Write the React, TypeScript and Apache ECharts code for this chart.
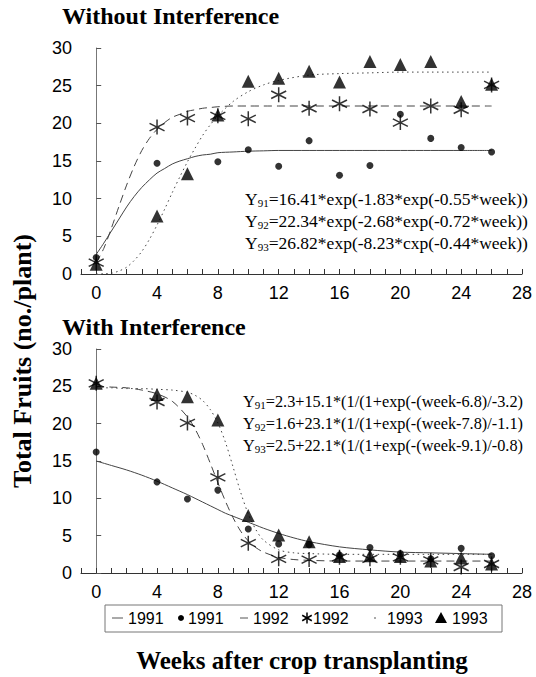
import React, { useEffect, useRef } from "react";
import * as echarts from "echarts";

// ---- observed data (weeks after transplanting) ----
const obsWeeks = [0, 4, 6, 8, 10, 12, 14, 16, 18, 20, 22, 24, 26];

// Without interference
const topObs1991 = [2.2, 14.7, null, 14.9, 16.5, 14.3, 17.7, 13.1, 14.4, 21.2, 18.0, 16.8, 16.2];
const topObs1992 = [1.5, 19.5, 20.7, 21.0, 20.6, 23.8, 22.0, 22.6, 21.9, 20.1, 22.3, 21.8, 25.1];
const topObs1993 = [1.3, 7.7, 13.3, 21.1, 25.6, 26.0, 26.9, 25.5, 28.2, 27.8, 28.2, 22.9, 25.2];

// With interference
const botObs1991 = [16.2, 12.2, 9.9, 11.1, 5.9, 3.9, 3.8, 2.4, 3.4, 2.6, 1.9, 3.3, 2.3];
const botObs1992 = [25.4, 22.9, 20.1, 12.8, 4.0, 1.9, 1.8, 2.1, 1.9, 2.1, 1.7, 0.8, 1.2];
const botObs1993 = [25.4, 23.9, 23.6, 20.5, 7.7, 5.1, 4.2, 2.2, 2.3, 2.2, 1.6, 2.0, 1.2];

// ---- fitted curves ----
const topCurveWeeks = [0, 0.5, 1, 1.5, 2, 2.5, 3, 3.5, 4, 4.5, 5, 5.5, 6, 6.5, 7, 7.5, 8, 9, 10, 11, 12, 14, 16, 18, 20, 22, 24, 26];
const topFit1991 = [2.6, 4.1, 5.7, 7.3, 8.9, 10.3, 11.5, 12.5, 13.4, 14.0, 14.6, 15.0, 15.3, 15.6, 15.8, 15.9, 16.1, 16.2, 16.3, 16.35, 16.4, 16.4, 16.4, 16.4, 16.4, 16.4, 16.4, 16.4];
const topFit1992 = [1.5, 3.4, 6.1, 9.0, 11.8, 14.3, 16.4, 18.0, 19.2, 20.1, 20.8, 21.2, 21.6, 21.8, 22.0, 22.1, 22.2, 22.3, 22.3, 22.3, 22.3, 22.3, 22.3, 22.3, 22.3, 22.3, 22.3, 22.3];
const topFit1993 = [0.0, 0.03, 0.1, 0.4, 0.9, 1.8, 3.0, 4.6, 6.5, 8.6, 10.8, 12.9, 14.9, 16.7, 18.4, 19.8, 21.0, 22.9, 24.2, 25.1, 25.7, 26.4, 26.6, 26.7, 26.8, 26.8, 26.8, 26.8];

const botCurveWeeks = [0, 1, 2, 3, 4, 5, 6, 6.5, 7, 7.5, 8, 8.5, 9, 9.5, 10, 10.5, 11, 12, 13, 14, 16, 18, 20, 22, 24, 26];
const botFit1991 = [15.0, 14.4, 13.8, 13.1, 12.3, 11.4, 10.5, 10.0, 9.5, 9.0, 8.5, 8.0, 7.6, 7.2, 6.8, 6.4, 6.0, 5.3, 4.7, 4.2, 3.5, 3.1, 2.8, 2.7, 2.6, 2.5];
const botFit1992 = [25.0, 24.9, 24.8, 24.5, 24.0, 23.0, 20.9, 19.3, 17.2, 14.7, 12.1, 9.6, 7.4, 5.6, 4.3, 3.4, 2.8, 2.1, 1.8, 1.7, 1.6, 1.6, 1.6, 1.6, 1.6, 1.6];
const botFit1993 = [24.8, 24.8, 24.7, 24.7, 24.6, 24.5, 24.2, 23.8, 23.1, 21.9, 20.1, 17.5, 14.2, 10.8, 7.9, 5.8, 4.4, 3.1, 2.7, 2.6, 2.5, 2.5, 2.5, 2.5, 2.5, 2.5];

// ---- texts ----
const titleTop = "Without Interference";
const titleBottom = "With Interference";
const yTitle = "Total Fruits (no./plant)";
const xTitle = "Weeks after crop transplanting";
const legendLabels = ["1991", "1991", "1992", "1992", "1993", "1993"];
const topEquations = [
  ["91", "=16.41*exp(-1.83*exp(-0.55*week))"],
  ["92", "=22.34*exp(-2.68*exp(-0.72*week))"],
  ["93", "=26.82*exp(-8.23*cxp(-0.44*week))"],
];
const bottomEquations = [
  ["91", "=2.3+15.1*(1/(1+exp(-(week-6.8)/-3.2)"],
  ["92", "=1.6+23.1*(1/(1+exp(-(week-7.8)/-1.1)"],
  ["93", "=2.5+22.1*(1/(1+exp(-(week-9.1)/-0.8)"],
];

const SERIF = "'Liberation Serif', 'Times New Roman', serif";
const SANS = "'Liberation Sans', Arial, sans-serif";
const LINE_COLOR = "#444";
const STAR = "path://M0,-10L0,10M-8.66,-5L8.66,5M-8.66,5L8.66,-5";

function pts(xs: number[], ys: (number | null)[]) {
  const out: number[][] = [];
  xs.forEach((x, i) => {
    const y = ys[i];
    if (y !== null && y !== undefined) out.push([x, y]);
  });
  return out;
}

function curve(name: string, idx: number, xs: number[], ys: number[], type: any) {
  return {
    name,
    type: "line",
    xAxisIndex: idx,
    yAxisIndex: idx,
    data: pts(xs, ys),
    smooth: 0.3,
    showSymbol: false,
    symbol: "none",
    silent: true,
    lineStyle: { color: LINE_COLOR, width: 1, type },
    z: 2,
  };
}

function scatter(name: string, idx: number, ys: (number | null)[], kind: string) {
  const base: any = {
    name,
    type: "scatter",
    xAxisIndex: idx,
    yAxisIndex: idx,
    data: pts(obsWeeks, ys),
    silent: true,
    z: 3,
  };
  if (kind === "circle") {
    base.symbol = "circle";
    base.symbolSize = 7;
    base.itemStyle = { color: "#000" };
  } else if (kind === "triangle") {
    base.symbol = "triangle";
    base.symbolSize = 13;
    base.itemStyle = { color: "#000" };
  } else {
    base.symbol = STAR;
    base.symbolSize = 15;
    base.itemStyle = { color: "rgba(0,0,0,0)", borderColor: "#000", borderWidth: 1.5 };
  }
  return base;
}

function eqText(eqs: string[][], x: number, y0: number, gap: number, size: number) {
  return eqs.map((e, i) => ({
    type: "text",
    x,
    y: y0 + i * gap,
    silent: true,
    style: {
      text: `{a|Y}{s|${e[0]}}{a|${e[1]}}`,
      verticalAlign: "middle",
      align: "left",
      rich: {
        a: { fontSize: size, fontFamily: SERIF, fill: "#000", lineHeight: 18 },
        s: { fontSize: 11, fontFamily: SERIF, fill: "#000", lineHeight: 18, verticalAlign: "bottom" },
      },
    },
  }));
}

function legendGraphics() {
  const cy = 618;
  const t = (x: number, s: string) => ({
    type: "text",
    x,
    y: cy,
    silent: true,
    style: { text: s, fontSize: 16, fontFamily: SANS, fill: "#000", verticalAlign: "middle", align: "left" },
  });
  const ln = (x1: number, x2: number, dash?: number[]) => ({
    type: "line",
    silent: true,
    shape: { x1, y1: cy, x2, y2: cy },
    style: { stroke: "#555", lineWidth: 1, lineDash: dash },
  });
  const sx = 307;
  const r = 5.5;
  return [
    {
      type: "rect",
      silent: true,
      shape: { x: 105, y: 605, width: 397, height: 27 },
      style: { fill: "none", stroke: "#777", lineWidth: 1 },
    },
    ln(112, 123),
    t(128, legendLabels[0]),
    { type: "circle", silent: true, shape: { cx: 181, cy, r: 3 }, style: { fill: "#000" } },
    t(188, legendLabels[1]),
    ln(240, 248),
    t(253, legendLabels[2]),
    { type: "line", silent: true, shape: { x1: sx, y1: cy - r, x2: sx, y2: cy + r }, style: { stroke: "#000", lineWidth: 1.5 } },
    { type: "line", silent: true, shape: { x1: sx - r * 0.87, y1: cy - r * 0.5, x2: sx + r * 0.87, y2: cy + r * 0.5 }, style: { stroke: "#000", lineWidth: 1.5 } },
    { type: "line", silent: true, shape: { x1: sx - r * 0.87, y1: cy + r * 0.5, x2: sx + r * 0.87, y2: cy - r * 0.5 }, style: { stroke: "#000", lineWidth: 1.5 } },
    t(313, legendLabels[3]),
    ln(374, 376),
    t(387, legendLabels[4]),
    { type: "polygon", silent: true, shape: { points: [[441, cy - 6], [435, cy + 5], [447, cy + 5]] }, style: { fill: "#000" } },
    t(452, legendLabels[5]),
  ];
}

function axisX(idx: number) {
  return {
    gridIndex: idx,
    type: "value",
    min: -1,
    max: 28,
    interval: 1,
    axisLine: { show: true, onZero: false, lineStyle: { color: "#333", width: 1 } },
    axisTick: { show: true, inside: true, length: 5, lineStyle: { color: "#333" } },
    axisLabel: {
      formatter: (v: number) => (v >= 0 && v % 4 === 0 ? String(v) : ""),
      fontSize: 18,
      fontFamily: SANS,
      color: "#000",
      margin: 10,
    },
    splitLine: { show: false },
  };
}

function axisY(idx: number) {
  return {
    gridIndex: idx,
    type: "value",
    min: 0,
    max: 30,
    interval: 5,
    axisLine: { show: true, lineStyle: { color: "#777", width: 1 } },
    axisTick: { show: true, inside: true, length: 5, lineStyle: { color: "#555" } },
    axisLabel: { fontSize: 18, fontFamily: SANS, color: "#000", margin: 9 },
    splitLine: { show: false },
  };
}

export default function App() {
  const ref = useRef<HTMLDivElement>(null);
  useEffect(() => {
    if (!ref.current) return;
    const chart = echarts.init(ref.current, null, { renderer: "svg" });
    const option: any = {
      animation: false,
      backgroundColor: "#fff",
      grid: [
        { left: 81, top: 48, width: 441, height: 226 },
        { left: 81, top: 349, width: 441, height: 224 },
      ],
      xAxis: [axisX(0), axisX(1)],
      yAxis: [axisY(0), axisY(1)],
      series: [
        curve("fit1991", 0, topCurveWeeks, topFit1991, "solid"),
        curve("fit1992", 0, topCurveWeeks, topFit1992, [8, 5]),
        curve("fit1993", 0, topCurveWeeks, topFit1993, [1.5, 3.5]),
        scatter("1991", 0, topObs1991, "circle"),
        scatter("1992", 0, topObs1992, "star"),
        scatter("1993", 0, topObs1993, "triangle"),
        curve("fit1991b", 1, botCurveWeeks, botFit1991, "solid"),
        curve("fit1992b", 1, botCurveWeeks, botFit1992, [8, 5]),
        curve("fit1993b", 1, botCurveWeeks, botFit1993, [1.5, 3.5]),
        scatter("1991b", 1, botObs1991, "circle"),
        scatter("1992b", 1, botObs1992, "star"),
        scatter("1993b", 1, botObs1993, "triangle"),
      ],
      graphic: [
        {
          type: "text",
          x: 62,
          y: 28,
          silent: true,
          style: { text: titleTop, fontSize: 24, fontWeight: "bold", fontFamily: SERIF, fill: "#000", verticalAlign: "bottom" },
        },
        {
          type: "text",
          x: 62,
          y: 339,
          silent: true,
          style: { text: titleBottom, fontSize: 24, fontWeight: "bold", fontFamily: SERIF, fill: "#000", verticalAlign: "bottom" },
        },
        {
          type: "text",
          x: 22,
          y: 361,
          rotation: Math.PI / 2,
          silent: true,
          style: { text: yTitle, fontSize: 26, fontWeight: "bold", fontFamily: SERIF, fill: "#000", align: "center", verticalAlign: "middle" },
        },
        {
          type: "text",
          x: 302,
          y: 660,
          silent: true,
          style: { text: xTitle, fontSize: 25, fontWeight: "bold", fontFamily: SERIF, fill: "#000", align: "center", verticalAlign: "middle" },
        },
        ...eqText(topEquations, 245, 199, 22, 17.5),
        ...eqText(bottomEquations, 243, 401, 22, 16.3),
        ...legendGraphics(),
      ],
    };
    chart.setOption(option);
    return () => chart.dispose();
  }, []);
  return (
    <div
      ref={ref}
      style={{ position: "absolute", left: 0, top: 0, width: 536, height: 677, background: "#fff" }}
    />
  );
}
